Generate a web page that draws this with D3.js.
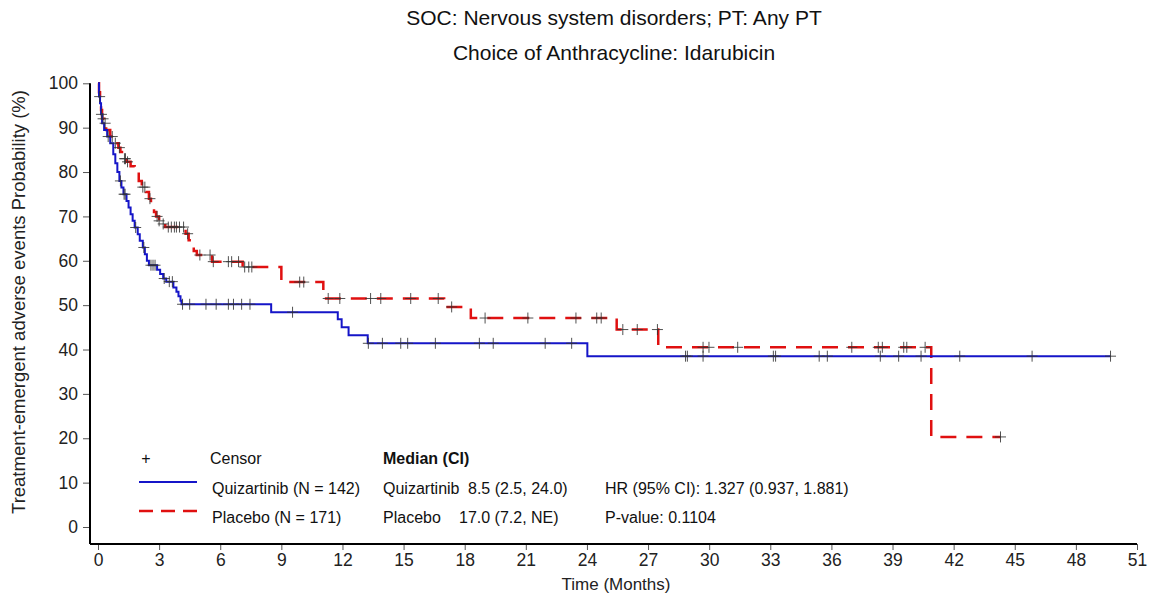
<!DOCTYPE html>
<html>
<head>
<meta charset="utf-8">
<script src="https://cdn.jsdelivr.net/npm/d3@7"></script>
<style>
  body { margin: 0; background: #fff; }
  svg { font-family: "Liberation Sans", Arial, sans-serif; }
</style>
</head>
<body>
<div id="km-chart"></div>
<script>
var titleLines = ["SOC: Nervous system disorders; PT: Any PT", "Choice of Anthracycline: Idarubicin"];
var xTicks = [0, 3, 6, 9, 12, 15, 18, 21, 24, 27, 30, 33, 36, 39, 42, 45, 48, 51];
var yTicks = [0, 10, 20, 30, 40, 50, 60, 70, 80, 90, 100];

// Quizartinib: step times (months) and probability (%) after each step
var quizTime = [0, 0.05, 0.1, 0.15, 0.2, 0.3, 0.45, 0.6, 0.75, 0.85, 0.95, 1.05, 1.15, 1.25, 1.4, 1.5, 1.6, 1.7, 1.8, 1.95, 2.05, 2.2, 2.3, 2.4, 2.5, 2.9, 3.05, 3.2, 3.35, 3.7, 3.85, 3.95, 4.05, 4.1, 8.5, 11.77, 11.96, 12.3, 13.24, 24.02, 49.7];
var quizSurv = [100, 97, 95.5, 93, 91, 89.5, 88, 86.5, 84, 82, 80, 78, 76.5, 75, 73.5, 72, 70.5, 69, 67.5, 66, 64.5, 63, 61.5, 60, 59, 58, 57, 56, 55.3, 54, 53, 52, 51, 50.2, 48.4, 46.8, 45, 43.2, 41.4, 38.5, 38.5];
var quizCensor = [0.08, 0.17, 0.5, 1.1, 1.28, 1.33, 1.85, 2.25, 2.6, 2.7, 2.8, 3.25, 3.5, 3.65, 4.15, 4.5, 5.3, 5.8, 6.4, 6.65, 7.05, 7.46, 9.55, 13.27, 13.96, 14.86, 15.2, 16.56, 18.72, 19.4, 21.95, 23.25, 28.84, 28.93, 29.7, 33.15, 33.26, 35.4, 35.8, 38.4, 39.3, 40.4, 42.3, 45.85, 49.7];

// Placebo
var placTime = [0, 0.05, 0.1, 0.15, 0.2, 0.3, 0.4, 0.6, 0.75, 1.0, 1.1, 1.25, 1.4, 1.6, 1.8, 2.0, 2.15, 2.35, 2.5, 2.6, 2.75, 2.85, 3.0, 3.15, 3.3, 4.3, 4.45, 4.6, 4.7, 4.85, 5.6, 7.1, 9.0, 11.06, 16.99, 18.3, 25.46, 27.5, 40.9, 44.3];
var placSurv = [100, 98, 96, 94, 92, 91, 89.5, 88, 86.5, 85.5, 84.5, 83, 82.3, 81.3, 80.4, 78, 76.6, 75.5, 74, 72.5, 71, 70, 69, 68.3, 67.6, 66.1, 64.6, 63, 62.2, 61.3, 59.8, 58.6, 55.2, 51.5, 49.6, 47.1, 44.5, 40.5, 20.3, 20.3];
var placCensor = [0.25, 0.35, 0.7, 0.85, 1.05, 1.3, 1.35, 1.45, 2.2, 2.3, 2.55, 2.9, 3.0, 3.2, 3.45, 3.6, 3.75, 3.85, 4.0, 4.2, 4.4, 5.0, 5.5, 5.66, 6.4, 6.56, 6.9, 7.2, 7.4, 7.55, 9.9, 10.1, 11.3, 11.87, 13.38, 13.88, 15.35, 16.7, 17.36, 19.0, 21.1, 23.46, 24.48, 24.7, 25.76, 26.47, 27.46, 29.7, 29.99, 31.4, 37.0, 38.3, 38.5, 39.55, 39.7, 40.6, 44.3];

var legendRows = ["Quizartinib (N = 142)", "Placebo (N = 171)"];
var medianNames = ["Quizartinib", "Placebo"];
var medianVals = ["8.5 (2.5, 24.0)", "17.0 (7.2, NE)"];
var statLines = ["HR (95% CI): 1.327 (0.937, 1.881)", "P-value: 0.1104"];

var width = 1156, height = 598;
var svg = d3.select("#km-chart").append("svg")
    .attr("width", width)
    .attr("height", height);

var x = d3.scaleLinear().domain([0, 51]).range([98, 1137]);
var y = d3.scaleLinear().domain([0, 100]).range([527, 83.3]);
var axisLeftX = 90, axisBottomY = 544;

// titles
svg.selectAll(".title")
  .data(titleLines)
  .enter().append("text")
    .attr("class", "title")
    .attr("x", 614)
    .attr("y", function(d, i) { return 25 + i * 35; })
    .attr("text-anchor", "middle")
    .style("font-size", "21px")
    .attr("fill", "#111")
    .text(function(d) { return d; });

// axes
var gx = svg.append("g")
    .attr("transform", "translate(0," + axisBottomY + ")")
    .call(d3.axisBottom(x).tickValues(xTicks).tickSize(6).tickPadding(4));
gx.select(".domain").remove();
gx.selectAll("text").style("font-size", "17.5px").attr("fill", "#222");
gx.selectAll("line").attr("stroke", "#555");

var gy = svg.append("g")
    .attr("transform", "translate(" + axisLeftX + ",0)")
    .call(d3.axisLeft(y).tickValues(yTicks).tickSize(7).tickPadding(5));
gy.select(".domain").remove();
gy.selectAll("text").style("font-size", "17.5px").attr("fill", "#222");
gy.selectAll("line").attr("stroke", "#555");

svg.append("line")
    .attr("x1", axisLeftX).attr("x2", x(51))
    .attr("y1", axisBottomY).attr("y2", axisBottomY)
    .attr("stroke", "#000").attr("stroke-width", 2);
svg.append("line")
    .attr("x1", axisLeftX).attr("x2", axisLeftX)
    .attr("y1", y(100)).attr("y2", axisBottomY)
    .attr("stroke", "#000").attr("stroke-width", 2);

svg.append("text")
    .attr("x", 616)
    .attr("y", 590)
    .attr("text-anchor", "middle")
    .style("font-size", "17px")
    .attr("fill", "#222")
    .text("Time (Months)");

svg.append("text")
    .attr("transform", "translate(25,302) rotate(-90)")
    .attr("text-anchor", "middle")
    .style("font-size", "18.5px")
    .attr("fill", "#222")
    .text("Treatment-emergent adverse events Probability  (%)");

// curves
var line = d3.line()
    .x(function(d) { return x(d[0]); })
    .y(function(d) { return y(d[1]); })
    .curve(d3.curveStepAfter);

function survAt(times, surv, t) {
  var i = d3.bisectRight(times, t) - 1;
  return surv[Math.max(i, 0)];
}

var series = [
  {time: placTime, surv: placSurv, censor: placCensor, color: "#e01010", width: 2.5, dash: "16,10"},
  {time: quizTime, surv: quizSurv, censor: quizCensor, color: "#1515c8", width: 2, dash: null}
];

series.forEach(function(s) {
  svg.append("path")
    .datum(d3.zip(s.time, s.surv))
      .attr("d", line)
      .attr("fill", "none")
      .attr("stroke", s.color)
      .attr("stroke-width", s.width)
      .attr("stroke-dasharray", s.dash);
});

series.forEach(function(s) {
  svg.append("g").selectAll("path")
    .data(s.censor)
    .enter().append("path")
      .attr("d", function(t) {
        var cx = x(t), cy = y(survAt(s.time, s.surv, t));
        return "M" + (cx - 5.5) + "," + cy + "H" + (cx + 5.5) + "M" + cx + "," + (cy - 5.5) + "V" + (cy + 5.5);
      })
      .attr("stroke", "#333")
      .attr("stroke-opacity", 0.85)
      .attr("stroke-width", 1);
});

// legend
var leg = svg.append("g").style("font-size", "16px").attr("fill", "#111");
leg.append("text").attr("x", 146).attr("y", 464).attr("text-anchor", "middle").text("+");
leg.append("text").attr("x", 210).attr("y", 464).text("Censor");
leg.append("text").attr("x", 383).attr("y", 464).style("font-weight", "bold").text("Median (CI)");

leg.append("line").attr("x1", 139).attr("x2", 197).attr("y1", 482).attr("y2", 482)
    .attr("stroke", series[1].color).attr("stroke-width", 2);
leg.append("line").attr("x1", 139).attr("x2", 197).attr("y1", 511).attr("y2", 511)
    .attr("stroke", series[0].color).attr("stroke-width", 2.5).attr("stroke-dasharray", "14,8");

leg.selectAll(".lrow").data(legendRows).enter().append("text")
    .attr("x", 212).attr("y", function(d, i) { return 494 + i * 29; })
    .text(function(d) { return d; });
leg.selectAll(".mname").data(medianNames).enter().append("text")
    .attr("x", 383).attr("y", function(d, i) { return 494 + i * 29; })
    .text(function(d) { return d; });
leg.selectAll(".mval").data(medianVals).enter().append("text")
    .attr("x", function(d, i) { return i === 0 ? 468 : 459; })
    .attr("y", function(d, i) { return 494 + i * 29; })
    .text(function(d) { return d; });
leg.selectAll(".stat").data(statLines).enter().append("text")
    .attr("x", 605).attr("y", function(d, i) { return 494 + i * 29; })
    .text(function(d) { return d; });
</script>
</body>
</html>
